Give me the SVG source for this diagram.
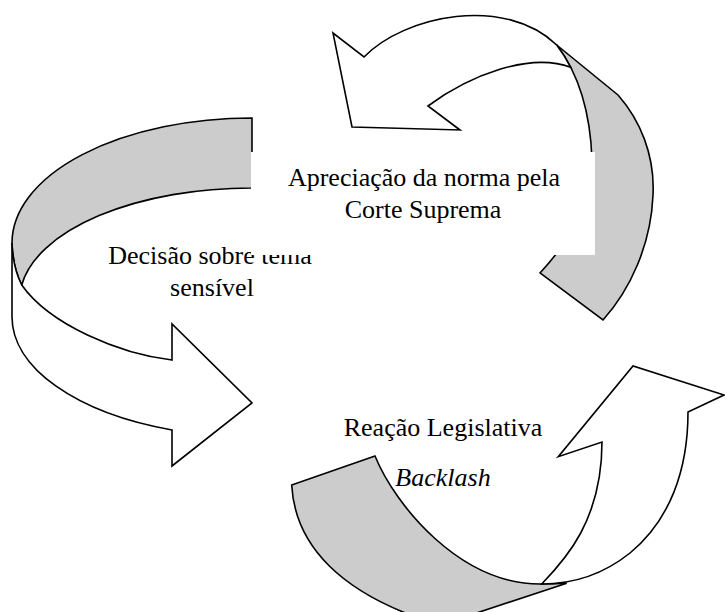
<svg xmlns="http://www.w3.org/2000/svg" width="725" height="612" viewBox="0 0 725 612">
<style>
.w{fill:#ffffff;stroke:#000000;stroke-width:1.6;stroke-linejoin:miter}
.g{fill:#cccccc;stroke:#000000;stroke-width:1.6;stroke-linejoin:miter}
.t{font-family:"Liberation Serif","Times New Roman",serif;font-size:26px;fill:#000000;text-anchor:middle}
.i{font-style:italic}
</style>
<rect width="725" height="612" fill="#ffffff"/>
<g id="connectors">
  <g id="arrow-left">
    <path class="g" d="M252,118 A240,125 0 0 0 12,243 Q13,268 21.7,285 A232,112 0 0 1 252,188 Z"/>
    <path class="w" d="M12,243 Q13,268 21.7,285 C50,325 120,354 172,360 L172,324 L252,403 L172,466 L172,430 A240,120 0 0 1 12,317 Z"/>
  </g>
  <g id="arrow-bottom">
    <path class="g" d="M291.7,485 L375,456 C395,505 460,585 541.7,584 Q555,584 566.7,583.3 L440,625 C340,595 295,545 291.7,485 Z"/>
    <path class="w" d="M541.7,584 C565,560 602,520 602,442 L558.3,456.7 L633,366 L724,395 L688,412 C688,470 670,520 630,553 C605,573 575,584 541.7,584 Z"/>
  </g>
  <g id="arrow-top">
    <path class="g" d="M556.7,45 L618,95 C640,120 655,155 653,195 C651,245 630,290 603,320 L540,273 C575,235 592,200 592,160 C590,100 572,65 556.7,45 Z"/>
    <path class="w" d="M364,57 C405,15 505,-5 556.7,45 C561.3,51 566.1,58.35 570.7,67.3 C530,52 470,75 428,106 L460,130 L352,127 L333,33 Z"/>
  </g>
</g>
<g id="node-decisao">
  <text class="t" x="210" y="264">Decisão sobre tema</text>
  <text class="t" x="212" y="296">sensível</text>
</g>
<g id="node-apreciacao">
  <rect x="251" y="152" width="344" height="103" fill="#ffffff"/>
  <text class="t" x="424" y="186">Apreciação da norma pela</text>
  <text class="t" x="423" y="218">Corte Suprema</text>
</g>
<g id="node-reacao">
  <text class="t" x="443" y="436">Reação Legislativa</text>
  <text class="t i" x="443" y="486">Backlash</text>
</g>
</svg>
